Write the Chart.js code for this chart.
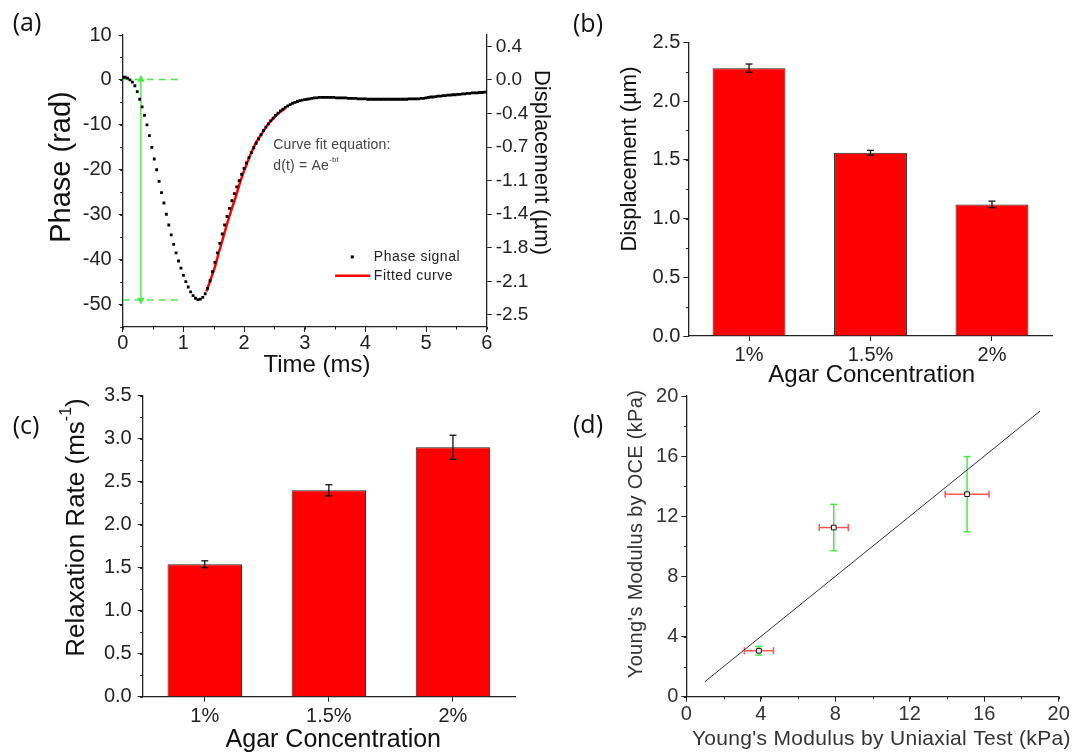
<!DOCTYPE html>
<html>
<head>
<meta charset="utf-8">
<script src="https://cdn.jsdelivr.net/npm/chart.js@4.4.1/dist/chart.umd.min.js"></script>
<style>
  html, body { margin: 0; padding: 0; background: #fff; }
  #wrap { position: relative; width: 1073px; height: 756px; overflow: hidden; }
  #wrap canvas { position: absolute; left: 0; top: 0; }
  .tag { position: absolute; font-family: 'Open Sans', sans-serif; font-size: 25px; color: #111; line-height: 1; transform: translate(-50%, -50%); }
</style>
</head>
<body>
<div id="wrap">
  <canvas id="chartA" width="1073" height="756"></canvas>
  <canvas id="chartB" width="1073" height="756"></canvas>
  <canvas id="chartC" width="1073" height="756"></canvas>
  <canvas id="chartD" width="1073" height="756"></canvas>
  <div class="tag" style="left:27px;top:21px">(a)</div>
  <div class="tag" style="left:588px;top:22px">(b)</div>
  <div class="tag" style="left:26px;top:424px">(c)</div>
  <div class="tag" style="left:588px;top:423px">(d)</div>
</div>
<script>
// ---- panel (a): phase signal vs time ----
const phaseTime = [
  0.00,0.04,0.08,0.12,0.16,0.20,0.24,0.28,0.32,0.36,
  0.40,0.44,0.48,0.52,0.56,0.60,0.64,0.68,0.72,0.76,
  0.80,0.84,0.88,0.92,0.96,1.00,1.04,1.08,1.12,1.16,
  1.20,1.24,1.28,1.32,1.36,1.40,1.44,1.48,1.52,1.56,
  1.60,1.64,1.68,1.72,1.76,1.80,1.84,1.88,1.92,1.96,
  2.00,2.04,2.08,2.12,2.16,2.20,2.24,2.28,2.32,2.36,
  2.40,2.44,2.48,2.52,2.56,2.60,2.64,2.68,2.72,2.76,
  2.80,2.84,2.88,2.92,2.96,3.00,3.04,3.08,3.12,3.16,
  3.20,3.24,3.28,3.32,3.36,3.40,3.44,3.48,3.52,3.56,
  3.60,3.64,3.68,3.72,3.76,3.80,3.84,3.88,3.92,3.96,
  4.00,4.04,4.08,4.12,4.16,4.20,4.24,4.28,4.32,4.36,
  4.40,4.44,4.48,4.52,4.56,4.60,4.64,4.68,4.72,4.76,
  4.80,4.84,4.88,4.92,4.96,5.00,5.04,5.08,5.12,5.16,
  5.20,5.24,5.28,5.32,5.36,5.40,5.44,5.48,5.52,5.56,
  5.60,5.64,5.68,5.72,5.76,5.80,5.84,5.88,5.92,5.96,
  6.00
];
const phaseValue = [
  0.6,0.6,0.4,0.0,-0.5,-1.3,-2.6,-4.3,-6.0,-7.9,
  -10.0,-12.4,-15.0,-17.6,-20.0,-22.6,-25.1,-27.4,-29.9,-32.3,
  -34.5,-36.6,-38.5,-40.3,-41.9,-43.5,-44.9,-46.1,-47.2,-48.0,
  -48.6,-48.9,-48.8,-48.4,-47.6,-46.4,-44.7,-42.7,-40.6,-38.5,
  -36.4,-34.3,-32.3,-30.4,-28.6,-26.9,-25.3,-23.8,-22.4,-21.0,
  -19.7,-18.5,-17.3,-16.2,-15.1,-14.1,-13.1,-12.2,-11.3,-10.5,
  -9.8,-9.1,-8.5,-7.9,-7.4,-6.9,-6.5,-6.1,-5.8,-5.5,
  -5.2,-5.0,-4.8,-4.6,-4.5,-4.4,-4.3,-4.2,-4.1,-4.0,
  -4.0,-3.9,-3.9,-3.9,-3.9,-3.9,-3.9,-3.9,-4.0,-4.0,
  -4.0,-4.0,-4.0,-4.1,-4.1,-4.1,-4.1,-4.2,-4.2,-4.2,
  -4.2,-4.3,-4.3,-4.3,-4.3,-4.3,-4.3,-4.3,-4.3,-4.3,
  -4.3,-4.3,-4.3,-4.3,-4.3,-4.3,-4.3,-4.3,-4.2,-4.2,
  -4.2,-4.2,-4.2,-4.1,-4.1,-4.0,-3.9,-3.8,-3.8,-3.7,
  -3.6,-3.6,-3.5,-3.5,-3.4,-3.4,-3.3,-3.3,-3.2,-3.2,
  -3.1,-3.1,-3.0,-3.0,-2.9,-2.9,-2.9,-2.8,-2.8,-2.7,
  -2.7
];
const fitTime = [1.38,1.45,1.52,1.59,1.66,1.73,1.80,1.87,1.93,2.00,2.07,2.14,2.21,2.29,2.37,2.45,2.54,2.61,2.68];
const fitValue = [-47.1,-44.4,-41.6,-38.2,-34.9,-31.6,-28.6,-25.7,-23.0,-20.3,-17.8,-15.6,-13.7,-12.0,-10.4,-9.0,-7.8,-7.0,-6.3];
const guideLevels = [0.1, -49];   // green markers: start level and minimum
const guideTime = 0.3;
const guideEnd = 0.97;
const umPerRad = 0.0478;          // right axis: displacement per radian
const dispTicks = [0.357, 0, -0.357, -0.714, -1.071, -1.429, -1.786, -2.143, -2.5];

// ---- panels (b) and (c): bars ----
const agar = ['1%', '1.5%', '2%'];
const dispMean = [2.28, 1.56, 1.12];
const dispErr = [0.035, 0.02, 0.028];
const rateMean = [1.54, 2.40, 2.90];
const rateErr = [0.04, 0.065, 0.14];

// ---- panel (d): OCE vs uniaxial ----
const uniaxial = [3.9, 7.92, 15.08];
const uniaxialErr = [0.78, 0.78, 1.18];
const oce = [3.06, 11.25, 13.47];
const oceErr = [0.29, 1.54, 2.5];
const refLine = [1, 19];

const FONT = "'Liberation Sans', Arial, sans-serif";
const green = '#4de84d';
Chart.defaults.font.family = FONT;
Chart.defaults.color = '#222';
Chart.defaults.animation = false;
Chart.defaults.plugins.legend.display = false;
Chart.defaults.plugins.tooltip.enabled = false;

function seg(ctx, x1, y1, x2, y2) {
  ctx.beginPath(); ctx.moveTo(x1, y1); ctx.lineTo(x2, y2); ctx.stroke();
}

function drawText(ctx, t) {
  const S = t.size || 14;
  const f = sz => sz + 'px ' + FONT;
  ctx.save();
  ctx.translate(t.x, t.y);
  if (t.rot) ctx.rotate(t.rot * Math.PI / 180);
  ctx.fillStyle = t.color || '#111';
  ctx.textBaseline = 'middle';
  ctx.textAlign = 'left';
  if (t.spacing) ctx.letterSpacing = t.spacing + 'px';
  ctx.font = f(S);
  const w1 = ctx.measureText(t.text).width;
  const supS = Math.round(S * 0.6);
  let w2 = 0, w3 = 0;
  if (t.sup) { ctx.font = f(supS); w2 = ctx.measureText(t.sup).width; }
  if (t.tail) { ctx.font = f(S); w3 = ctx.measureText(t.tail).width; }
  const x0 = t.align === 'left' ? 0 : -(w1 + w2 + w3) / 2;
  ctx.font = f(S);
  ctx.fillText(t.text, x0, 0);
  if (t.sup) { ctx.font = f(supS); ctx.fillText(t.sup, x0 + w1, -S * 0.4); }
  if (t.tail) { ctx.font = f(S); ctx.fillText(t.tail, x0 + w1 + w2, 0); }
  ctx.restore();
}

// minor ticks, error bars, in-plot notes and axis titles
const extras = {
  id: 'extras',
  beforeDatasetsDraw(chart, args, o) {
    const ctx = chart.ctx;
    const xs = chart.scales.x, ys = chart.scales.y;
    (o.xyErrors || []).forEach(e => {
      ctx.save();
      ctx.lineWidth = 1.5;
      e.x.forEach((xv, i) => {
        const px = xs.getPixelForValue(xv), py = ys.getPixelForValue(e.y[i]);
        const xl = xs.getPixelForValue(xv - e.xErr[i]), xr = xs.getPixelForValue(xv + e.xErr[i]);
        const yt = ys.getPixelForValue(e.y[i] + e.yErr[i]), yb = ys.getPixelForValue(e.y[i] - e.yErr[i]);
        ctx.strokeStyle = e.yColor;
        seg(ctx, px, yt, px, yb); seg(ctx, px - 3.5, yt, px + 3.5, yt); seg(ctx, px - 3.5, yb, px + 3.5, yb);
        ctx.strokeStyle = e.xColor;
        seg(ctx, xl, py, xr, py); seg(ctx, xl, py - 3.5, xl, py + 3.5); seg(ctx, xr, py - 3.5, xr, py + 3.5);
      });
      ctx.restore();
    });
  },
  afterDraw(chart, args, o) {
    const ctx = chart.ctx;
    const xs = chart.scales.x, ys = chart.scales.y;
    ctx.save();
    (o.barErrors || []).forEach(b => {
      const meta = chart.getDatasetMeta(b.dataset);
      const vals = chart.data.datasets[b.dataset].data;
      ctx.strokeStyle = '#111'; ctx.lineWidth = 1.3;
      meta.data.forEach((el, i) => {
        const top = ys.getPixelForValue(vals[i] + b.err[i]);
        const bot = ys.getPixelForValue(vals[i] - b.err[i]);
        seg(ctx, el.x, top, el.x, bot);
        seg(ctx, el.x - 3.5, top, el.x + 3.5, top);
        seg(ctx, el.x - 3.5, bot, el.x + 3.5, bot);
      });
    });
    (o.minor || []).forEach(m => {
      const s = chart.scales[m.axis];
      const n = Math.round((s.max - s.min) / m.step);
      ctx.strokeStyle = '#222'; ctx.lineWidth = 1;
      for (let i = 0; i <= n; i++) {
        const p = Math.round(s.getPixelForValue(s.min + i * m.step)) + 0.5;
        if (s.isHorizontal()) seg(ctx, p, s.top, p, s.top + m.len);
        else seg(ctx, s.right, p, s.right - m.len, p);
      }
    });
    (o.legend || []).forEach(l => {
      const y = ys.getPixelForValue(l.y);
      if (l.kind === 'dot') {
        ctx.fillStyle = '#000';
        ctx.fillRect(xs.getPixelForValue(l.x) - 1.5, y - 1.5, 3, 3);
      } else {
        ctx.strokeStyle = '#ff0000'; ctx.lineWidth = 2.5;
        seg(ctx, xs.getPixelForValue(l.x), y, xs.getPixelForValue(l.x2), y);
      }
      drawText(ctx, { text: l.label, x: xs.getPixelForValue(l.lx), y: y, size: 14, align: 'left', spacing: 0.5, color: '#222' });
    });
    (o.notes || []).forEach(t => {
      drawText(ctx, Object.assign({}, t, { x: xs.getPixelForValue(t.x), y: ys.getPixelForValue(t.y) }));
    });
    (o.titles || []).forEach(t => drawText(ctx, t));
    ctx.restore();
  }
};
Chart.register(extras);

function axisOpts(o) {
  const a = {
    type: o.type || 'linear',
    position: o.position,
    offset: !!o.offset,
    grid: { drawOnChartArea: false, drawTicks: true, tickLength: o.tl, tickColor: '#222', offset: false },
    border: { display: true, color: '#222', width: 1.3 },
    ticks: { autoSkip: false, maxRotation: 0, padding: o.pad, color: o.color || '#222', font: { size: o.size, lineHeight: 1 } },
    afterFit: o.fit
  };
  if (o.min !== undefined) { a.min = o.min; a.max = o.max; }
  if (o.step) { a.ticks.stepSize = o.step; a.ticks.includeBounds = false; }
  if (o.fmt) a.ticks.callback = o.fmt;
  if (o.build) a.afterBuildTicks = o.build;
  return a;
}
const fitW = w => s => { s.width = w; };
const fitH = h => s => { s.height = h; };
const xy = (xs, ys) => xs.map((x, i) => ({ x: x, y: ys[i] }));

// (a)
new Chart(document.getElementById('chartA'), {
  type: 'scatter',
  data: {
    datasets: [
      { data: xy(phaseTime, phaseValue), pointStyle: 'rect', pointRadius: 2, backgroundColor: '#000', borderWidth: 0 },
      { data: xy(fitTime, fitValue), showLine: true, pointRadius: 0, borderColor: '#ff0000', borderWidth: 2.5, cubicInterpolationMode: 'monotone' },
      { data: [{ x: 0, y: guideLevels[0] }, { x: guideEnd, y: guideLevels[0] }], showLine: true, pointRadius: 0, borderColor: green, borderWidth: 1.4, borderDash: [7, 5] },
      { data: [{ x: 0, y: guideLevels[1] }, { x: guideEnd, y: guideLevels[1] }], showLine: true, pointRadius: 0, borderColor: green, borderWidth: 1.4, borderDash: [7, 5] },
      { data: [{ x: guideTime, y: guideLevels[0] }, { x: guideTime, y: guideLevels[1] }], showLine: true, borderColor: green, borderWidth: 1.4,
        pointStyle: 'triangle', pointRadius: 3, pointRotation: [0, 180], backgroundColor: green, pointBorderColor: green }
    ]
  },
  options: {
    responsive: false,
    layout: { padding: { left: 62.7, right: 526.3, top: 35, bottom: 389 } },
    scales: {
      x: axisOpts({ min: 0, max: 6, step: 1, tl: 5, pad: 1, size: 20, fit: fitH(40) }),
      y: axisOpts({ position: 'left', min: -55, max: 10, step: 10, tl: 4, pad: 7, size: 20, fit: fitW(60) }),
      y2: axisOpts({ position: 'right', min: -55 * umPerRad, max: 10 * umPerRad, tl: 5, pad: 4, size: 19, fit: fitW(60),
        build: s => { s.ticks = dispTicks.map(v => ({ value: v })); }, fmt: v => v.toFixed(1) })
    },
    plugins: {
      extras: {
        minor: [{ axis: 'x', step: 0.5, len: 2.5 }, { axis: 'y', step: 5, len: 2.5 }],
        legend: [
          { kind: 'dot', x: 3.785, y: -39.4, lx: 4.14, label: 'Phase signal' },
          { kind: 'line', x: 3.5, x2: 4.08, y: -43.6, lx: 4.14, label: 'Fitted curve' }
        ],
        notes: [
          { text: 'Curve fit equation:', x: 2.48, y: -14.6, size: 14, align: 'left', color: '#444', spacing: 0.2 },
          { text: 'd(t) = Ae', sup: '-bt', x: 2.48, y: -19.1, size: 14, align: 'left', color: '#444', spacing: 0.2 }
        ],
        titles: [
          { text: 'Phase (rad)', x: 62, y: 167, rot: -90, size: 29, color: '#111' },
          { text: 'Time (ms)', x: 317, y: 365, size: 24, color: '#111' },
          { text: 'Displacement (\u00b5m)', x: 541, y: 162.5, rot: 90, size: 22, color: '#111' }
        ]
      }
    }
  }
});

function barChart(id, values, errors, yMax, pad, o) {
  return new Chart(document.getElementById(id), {
    type: 'bar',
    data: {
      labels: agar,
      datasets: [{ data: values, backgroundColor: '#ff0000', borderColor: '#222', borderWidth: 1,
        categoryPercentage: 1, barPercentage: 0.6 }]
    },
    options: {
      responsive: false,
      layout: { padding: pad },
      scales: {
        x: axisOpts({ type: 'category', offset: true, tl: 5, pad: o.xPad, size: 20, fit: fitH(40) }),
        y: axisOpts({ position: 'left', min: 0, max: yMax, step: 0.5, tl: 5, pad: o.yPad, size: 20, fit: fitW(60), fmt: v => v.toFixed(1) })
      },
      plugins: {
        extras: {
          barErrors: [{ dataset: 0, err: errors }],
          minor: [{ axis: 'y', step: 0.25, len: 2.5 }],
          titles: o.titles
        }
      }
    }
  });
}

// (b)
barChart('chartB', dispMean, dispErr, 2.5, { left: 628.3, right: 20.3, top: 42.3, bottom: 380 }, {
  xPad: 4, yPad: 3,
  titles: [
    { text: 'Displacement (\u00b5m)', x: 630, y: 159, rot: -90, size: 22 },
    { text: 'Agar Concentration', x: 871.7, y: 375, size: 24 }
  ]
});

// (c)
barChart('chartC', rateMean, rateErr, 3.5, { left: 82.7, right: 558, top: 395.7, bottom: 19.3 }, {
  xPad: 5, yPad: 6,
  titles: [
    { text: 'Relaxation Rate (ms', sup: '-1', tail: ')', x: 76.7, y: 527.5, rot: -90, size: 26 },
    { text: 'Agar Concentration', x: 333.3, y: 740, size: 25 }
  ]
});

// (d)
new Chart(document.getElementById('chartD'), {
  type: 'scatter',
  data: {
    datasets: [
      { data: xy(uniaxial, oce), pointStyle: 'rect', pointRadius: 3.3, backgroundColor: '#fff', borderColor: '#111', borderWidth: 1 },
      { data: xy(refLine, refLine), showLine: true, pointRadius: 0, borderColor: '#333', borderWidth: 1 }
    ]
  },
  options: {
    responsive: false,
    layout: { padding: { left: 626.3, right: 14.3, top: 396, bottom: 19.3 } },
    scales: {
      x: axisOpts({ min: 0, max: 20, step: 4, tl: 5, pad: 3, size: 20, color: '#333', fit: fitH(40) }),
      y: axisOpts({ position: 'left', min: 0, max: 20, step: 4, tl: 5, pad: 3, size: 20, color: '#333', fit: fitW(60) })
    },
    plugins: {
      extras: {
        xyErrors: [{ x: uniaxial, y: oce, xErr: uniaxialErr, yErr: oceErr, xColor: '#ff5555', yColor: green }],
        minor: [{ axis: 'x', step: 2, len: 2.5 }, { axis: 'y', step: 2, len: 2.5 }],
        titles: [
          { text: "Young's Modulus by OCE (kPa)", x: 636.3, y: 534, rot: -90, size: 20, color: '#333', spacing: 0.3 },
          { text: "Young's Modulus by Uniaxial Test (kPa)", x: 881.3, y: 739.3, size: 21, color: '#333', spacing: 0.3 }
        ]
      }
    }
  }
});
</script>
</body>
</html>
